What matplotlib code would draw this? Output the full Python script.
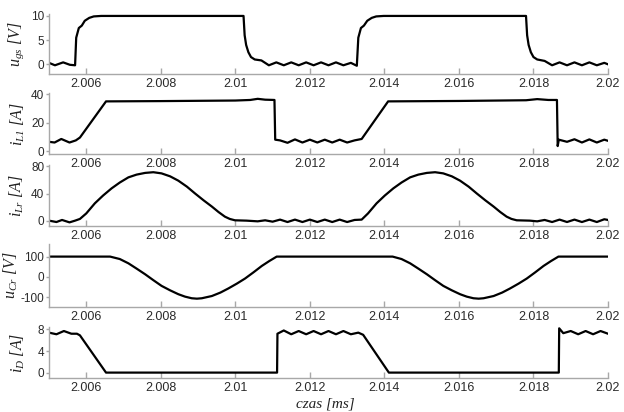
import matplotlib
matplotlib.use("Agg")
import matplotlib.pyplot as plt

# ---------------- data ----------------
ugs_t = [2.00500, 2.00516, 2.00538, 2.00556, 2.00570, 2.00573, 2.00580, 2.00588, 2.00596, 2.00608,
         2.00620, 2.00640, 2.01022, 2.01025, 2.01029, 2.01035, 2.01042, 2.01052, 2.01070, 2.01090,
         2.01110, 2.01130, 2.01150, 2.01170, 2.01190, 2.01210, 2.01230, 2.01250, 2.01270, 2.01290,
         2.01310, 2.01326, 2.01330, 2.01337, 2.01345, 2.01354, 2.01366, 2.01378, 2.01398, 2.01780,
         2.01783, 2.01787, 2.01793, 2.01800, 2.01810, 2.01830, 2.01850, 2.01870, 2.01890, 2.01910,
         2.01930, 2.01950, 2.01970, 2.01990, 2.02000]
ugs_v = [0.3, -0.2, 0.4, -0.1, -0.2, 5.5, 7.5, 8.0, 9.0, 9.6,
         9.9, 10.0, 10.0, 6.0, 4.0, 2.5, 1.5, 1.0, 0.8, -0.2,
         0.4, -0.2, 0.4, -0.2, 0.4, -0.2, 0.4, -0.2, 0.4, -0.2,
         0.3, -0.3, 5.5, 7.5, 8.0, 9.0, 9.6, 9.9, 10.0, 10.0,
         6.0, 4.0, 2.5, 1.5, 1.0, 0.7, -0.2, 0.4, -0.2, 0.4,
         -0.2, 0.4, -0.2, 0.3, 0.0]

iL1_t = [2.00500, 2.00515, 2.00533, 2.00555, 2.00572, 2.00583, 2.00653, 2.00800, 2.01000, 2.01040,
         2.01060, 2.01080, 2.01105, 2.01107, 2.01120, 2.01140, 2.01160, 2.01180, 2.01200, 2.01220,
         2.01240, 2.01260, 2.01280, 2.01300, 2.01320, 2.01339, 2.01410, 2.01600, 2.01780, 2.01810,
         2.01840, 2.01863, 2.01865, 2.01868, 2.01890, 2.01910, 2.01930, 2.01950, 2.01970, 2.01990,
         2.02000]
iL1_v = [6.5, 6.0, 8.5, 6.0, 7.5, 9.5, 35.0, 35.2, 35.6, 36.0,
         36.8, 36.2, 36.0, 8.0, 7.5, 5.8, 8.2, 6.0, 8.0, 6.0,
         8.0, 6.0, 8.0, 6.0, 7.5, 8.5, 35.0, 35.3, 35.8, 36.6,
         36.0, 36.0, 3.5, 8.0, 6.5, 8.3, 6.0, 8.2, 6.0, 8.0,
         7.2]

iLr_t = [2.00500, 2.00520, 2.00535, 2.00555, 2.00570, 2.00583, 2.00600, 2.00623, 2.00645, 2.00668,
         2.00690, 2.00713, 2.00735, 2.00758, 2.00780, 2.00802, 2.00825, 2.00847, 2.00870, 2.00892,
         2.00915, 2.00937, 2.00955, 2.00972, 2.00985, 2.00999, 2.01030, 2.01060, 2.01080, 2.01100,
         2.01120, 2.01140, 2.01160, 2.01180, 2.01200, 2.01220, 2.01240, 2.01260, 2.01280, 2.01300,
         2.01320, 2.01339, 2.01356, 2.01379, 2.01401, 2.01424, 2.01446, 2.01469, 2.01491, 2.01514,
         2.01536, 2.01558, 2.01581, 2.01603, 2.01626, 2.01648, 2.01671, 2.01693, 2.01711, 2.01728,
         2.01741, 2.01755, 2.01790, 2.01810, 2.01830, 2.01850, 2.01870, 2.01890, 2.01910, 2.01930,
         2.01950, 2.01970, 2.01990, 2.02000]
iLr_v = [0.5, -1.5, 1.5, -2.0, 0.5, 3.0, 11, 25.7, 37, 47.5,
         56, 63.5, 67.5, 70, 71, 69.3, 65, 58.7, 50, 40,
         30, 21, 13, 6.3, 3, 1.0, 0.5, -0.5, 1.0, -1.0,
         2.0, -1.5, 2.0, -1.5, 2.0, -1.5, 2.0, -1.5, 2.0, -1.5,
         1.5, 2.0, 11, 25.7, 37, 47.5, 56, 63.5, 67.5, 70,
         71, 69.3, 65, 58.7, 50, 40, 30, 21, 13, 6.3,
         3, 1.0, 0.5, -0.5, 1.5, -1.5, 2.0, -1.5, 2.0, -1.5,
         2.0, -1.5, 2.5, 1.5]

uCr_t = [2.00500, 2.00664, 2.00690, 2.00713, 2.00735, 2.00758, 2.00780, 2.00802, 2.00825, 2.00847,
         2.00865, 2.00883, 2.00897, 2.00910, 2.00937, 2.00960, 2.00981, 2.01004, 2.01026, 2.01049,
         2.01071, 2.01091, 2.01111, 2.01422, 2.01446, 2.01469, 2.01491, 2.01514, 2.01536, 2.01558,
         2.01581, 2.01603, 2.01621, 2.01639, 2.01653, 2.01666, 2.01693, 2.01716, 2.01737, 2.01760,
         2.01782, 2.01805, 2.01827, 2.01847, 2.01867, 2.02000]
uCr_v = [100, 100, 88, 67, 41, 13, -16, -44, -66, -85,
         -97, -105, -107, -105, -94, -77, -57, -33, -8, 23,
         54, 78, 100, 100, 88, 67, 41, 13, -16, -44,
         -66, -85, -97, -105, -107, -105, -94, -77, -57, -33,
         -8, 23, 54, 78, 100, 100]

iD_t = [2.00500, 2.00520, 2.00540, 2.00560, 2.00575, 2.00583, 2.00653, 2.01112, 2.01113, 2.01130,
        2.01150, 2.01170, 2.01190, 2.01210, 2.01230, 2.01250, 2.01270, 2.01290, 2.01310, 2.01330,
        2.01343, 2.01412, 2.01868, 2.01869, 2.01880, 2.01900, 2.01920, 2.01940, 2.01960, 2.01980,
        2.02000]
iD_v = [7.4, 7.1, 7.7, 7.2, 7.2, 6.9, 0.0, 0.0, 7.2, 7.8,
        7.1, 7.7, 7.1, 7.7, 7.1, 7.7, 7.1, 7.7, 7.1, 7.4,
        7.0, 0.0, 0.0, 8.2, 7.3, 7.7, 7.1, 7.7, 7.1, 7.7,
        7.2]

x_ticks = [2.006, 2.008, 2.010, 2.012, 2.014, 2.016, 2.018, 2.020]
x_labels = ["2.006", "2.008", "2.01", "2.012", "2.014", "2.016", "2.018", "2.02"]

y_labels = [r"$u_{gs}\ [V]$", r"$i_{L1}\ [A]$", r"$i_{Lr}\ [A]$", r"$u_{Cr}\ [V]$", r"$i_{D}\ [A]$"]
y_ticks = [[0, 5, 10], [0, 20, 40], [0, 40, 80], [-100, 0, 100], [0, 4, 8]]
y_lims = [(-1.9, 10.4), (-2.1, 40.7), (-7.3, 81.5), (-148, 162), (-1.0, 8.5)]

series = [(ugs_t, ugs_v), (iL1_t, iL1_v), (iLr_t, iLr_v), (uCr_t, uCr_v), (iD_t, iD_v)]

# ---------------- style ----------------
plt.rcParams['mathtext.fontset'] = 'custom'
plt.rcParams['mathtext.rm'] = 'Liberation Serif:italic'
plt.rcParams['mathtext.it'] = 'Liberation Serif:italic'
plt.rcParams['font.family'] = ['Liberation Sans', 'DejaVu Sans']

W, H = 624, 412
fig = plt.figure(figsize=(W / 100, H / 100), dpi=100)

# axes boxes in pixels: (top, bottom)
boxes = [(14, 73.5), (93.3, 154), (165, 226), (244, 307), (326.7, 378)]
label_x_px = [26, 27, 26, 20, 27]
left_px, right_px = 49, 608

spine_col = "#a8a8a8"
text_col = "#2a2a2a"

for k, ((top, bot), (t, v)) in enumerate(zip(boxes, series)):
    ax = fig.add_axes([left_px / W, 1 - bot / H, (right_px - left_px) / W, (bot - top) / H])
    ax.plot(t, v, color="black", lw=1.6, solid_joinstyle="round")
    ax.set_xlim(2.005, 2.020)
    ax.set_ylim(*y_lims[k])
    ax.set_xticks(x_ticks)
    ax.set_xticklabels(x_labels)
    ax.set_yticks(y_ticks[k])
    ax.set_yticklabels([str(y) for y in y_ticks[k]])
    for s in ("top", "right"):
        ax.spines[s].set_visible(False)
    for s in ("left", "bottom"):
        ax.spines[s].set_color(spine_col)
        ax.spines[s].set_linewidth(1.0)
    ax.tick_params(axis="x", direction="in", length=4.5, width=1.0, color=spine_col,
                   labelsize=9, labelcolor=text_col, pad=3)
    ax.tick_params(axis="y", direction="out", length=2.5, width=1.0, color=spine_col,
                   labelsize=8.5, labelcolor=text_col, pad=1)
    ax.set_ylabel(y_labels[k], fontsize=11.5, color="#222222")
    ax.yaxis.set_label_coords((label_x_px[k] - left_px) / (right_px - left_px), 0.5)
    ax.patch.set_visible(False)

fig.text(325 / W, 1 - 404 / H, "czas [ms]", ha="center", va="center", fontsize=11,
         family="Liberation Serif", style="italic", color="#222222")

fig.savefig("out.png", dpi=100)
